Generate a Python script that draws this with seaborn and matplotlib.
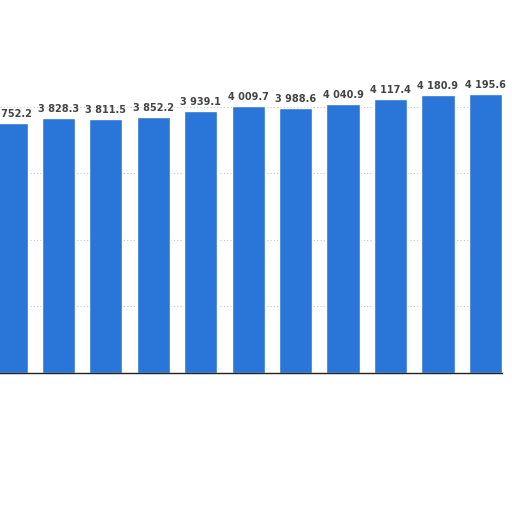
import matplotlib
matplotlib.use("Agg")
import matplotlib.pyplot as plt
import seaborn as sns
import pandas as pd

# bar values (first bar is cut at the left edge)
categories = ["1", "2", "3", "4", "5", "6", "7", "8", "9", "10", "11"]
values = [3752.2, 3828.3, 3811.5, 3852.2, 3939.1, 4009.7, 3988.6, 4040.9, 4117.4, 4180.9, 4195.6]

df = pd.DataFrame({"cat": categories, "val": values})

sns.set_style("white")
plt.rcParams["font.family"] = ["DejaVu Sans"]

fig = plt.figure(figsize=(5.12, 5.12), dpi=100)
# axes: baseline at y=373px, 4600 at y~67px, left side cropped
ax = fig.add_axes([0.0, (512 - 373) / 512, 502 / 512, (373 - 67) / 512])

sns.barplot(data=df, x="cat", y="val", color="#2a76d8", saturation=1,
            width=0.7, ax=ax)

ax.set_xlim(-0.232, 10.35)
ax.set_ylim(0, 4600)
ax.set_yticks([1000, 2000, 3000, 4000])
ax.yaxis.grid(True, linestyle=(0, (1, 2)), color="#c8c8c8", linewidth=0.8)
ax.set_axisbelow(True)
ax.tick_params(left=False, bottom=False, labelleft=False, labelbottom=False)
ax.set_xlabel("")
ax.set_ylabel("")
for side in ["top", "right", "left"]:
    ax.spines[side].set_visible(False)
ax.spines["bottom"].set_color("#222222")
ax.spines["bottom"].set_linewidth(1.0)

# value labels with space as thousands separator
for i, v in enumerate(values):
    txt = f"{v:,.1f}".replace(",", " ")
    ax.text(i, v + 60, txt, ha="center", va="bottom", fontsize=7,
            fontweight="bold", color="#444444", clip_on=False)

fig.savefig("out.png", dpi=100)
